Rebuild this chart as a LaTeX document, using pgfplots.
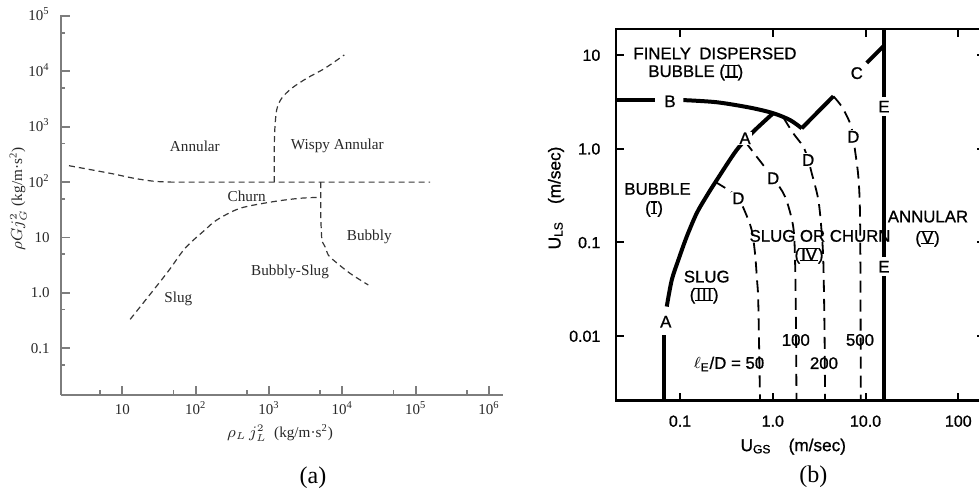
\documentclass[border=0pt]{standalone}
\usepackage{fontspec}
\setmainfont{Liberation Serif}
\newfontfamily\lsans[FakeBold=0.9]{Liberation Sans}
\usepackage{pgfplots}
\pgfplotsset{compat=1.18}

\definecolor{axgray}{RGB}{125,125,125}
\definecolor{txtgray}{RGB}{40,40,40}
\definecolor{dashgray}{RGB}{55,55,55}

% Roman numeral with bars above and below
\newcommand{\rn}[1]{{\setbox0\hbox{#1}\kern0.06em\rlap{\kern-0.06em\rule[-0.05em]{\dimexpr\wd0+0.12em\relax}{0.09em}}\rlap{\kern-0.06em\rule[\dimexpr\ht0-0.04em\relax]{\dimexpr\wd0+0.12em\relax}{0.09em}}\box0\kern0.06em}}

\begin{document}
\begin{tikzpicture}
\useasboundingbox (0,0) rectangle (489.5pt,248pt);

% ---------------- (a) ----------------
\begin{axis}[
  at={(30.5pt,50.65pt)}, anchor=south west,
  scale only axis, width=220.85pt, height=189.85pt,
  xmode=log, ymode=log,
  xmin=1.459, xmax=1.538e6, ymin=0.01452, ymax=1.042e5,
  axis lines*=left,
  axis line style={axgray, line width=1pt},
  tick align=inside,
  major tick length=4.4pt, minor tick length=2.2pt,
  tick style={axgray, line width=0.9pt},
  xtick={10,100,1000,10000,100000,1000000},
  xticklabels={10,10\textsuperscript{2},10\textsuperscript{3},10\textsuperscript{4},10\textsuperscript{5},10\textsuperscript{6}},
  minor xtick={5,50,500,5000,50000,500000},
  ytick={0.1,1,10,100,1000,10000,100000},
  yticklabels={0.1,1.0,10,10\textsuperscript{2},10\textsuperscript{3},10\textsuperscript{4},10\textsuperscript{5}},
  minor ytick={0.05,0.5,5,50,500,5000,50000},
  tick label style={font=\fontsize{7.5}{9}\selectfont, text=txtgray},
  xticklabel style={anchor=base, yshift=-9.8pt},
  yticklabel style={anchor=base east, yshift=-2.5pt, xshift=-2.2pt},
  clip=false,
]
% Annular / Churn boundary
\addplot[dashgray, line width=0.6pt, dash pattern=on 3pt off 2pt, smooth, tension=0.55]
  coordinates {(1.875,198) (6.79,144.5) (14.1,118) (26.5,104) (45,100.3) (80,100) (157000,100)};
% Annular / Wispy annular boundary
\addplot[dashgray, line width=0.6pt, dash pattern=on 3pt off 2pt, smooth, tension=0.5]
  coordinates {(1180,100) (1180,300) (1195,800) (1273,2010) (1490,3270) (2040,4950) (3270,7490) (5810,11400) (10640,19800)};
% Slug / Churn boundary
\addplot[dashgray, line width=0.6pt, dash pattern=on 3pt off 2pt, smooth, tension=0.5]
  coordinates {(12.8,0.333) (40.3,2.26) (71.6,6.38) (134,13.7) (194,20.7) (403,33.7) (1146,44.4) (2650,51.1) (5070,53.2)};
% Bubbly boundary
\addplot[dashgray, line width=0.6pt, dash pattern=on 3pt off 2pt, smooth, tension=0.5]
  coordinates {(5070,100) (5070,30) (5150,15) (5300,8.5) (5810,6.83) (6440,4.83) (7530,3.93) (12700,2.26) (22600,1.39)};

\begin{scope}[every node/.style={font=\fontsize{7.6}{9}\selectfont, text=txtgray}]
\node at (axis cs:97.7,450) {Annular};
\node at (axis cs:8550,450) {Wispy Annular};
\node at (axis cs:497,56.2) {Churn};
\node at (axis cs:23300,10.4) {Bubbly};
\node at (axis cs:1940,2.36) {Bubbly-Slug};
\node at (axis cs:58.1,0.766) {Slug};
\end{scope}
\end{axis}

\node[font=\fontsize{7.6}{9}\selectfont, text=txtgray] at (140pt,31.5pt) {$\rho_L\,j_L^2$\enspace(kg/m·s\textsuperscript{2})};
\node[font=\fontsize{7.6}{9}\selectfont, text=txtgray, rotate=90] at (9pt,148.5pt) {$\rho G j_G^2$\ (kg/m·s\textsuperscript{2})};
\node[font=\fontsize{12}{14}\selectfont] at (156.5pt,9pt) {(a)};

% ---------------- (b) ----------------
\begin{axis}[
  at={(308pt,47.65pt)}, anchor=south west,
  scale only axis, width=184.5pt, height=185.85pt,
  xmode=log, ymode=log,
  xmin=0.0204, xmax=194, ymin=0.002037, ymax=18.95,
  axis line style={black, line width=1.3pt},
  tick align=inside,
  major tick length=4pt,
  tick style={black, line width=1pt},
  xminorticks=false, yminorticks=false,
  xtick={0.1,1,10,100}, xticklabels={0.1,1.0,10.0,100},
  ytick={0.01,0.1,1,10}, yticklabels={0.01,0.1,1.0,10},
  tick label style={font=\lsans\fontsize{8}{9}\selectfont},
  xticklabel style={anchor=base, yshift=-13pt},
  yticklabel style={anchor=base east, yshift=-2.9pt, xshift=-4.3pt},
  clip=false,
  thk/.style={black, line width=2pt},
  dsh/.style={black, line width=0.9pt, dash pattern=on 6pt off 3.5pt, smooth, tension=0.5},
]
% B: bubble / dispersed bubble boundary
\addplot[thk] coordinates {(0.0204,3.28) (0.0538,3.28)};
\addplot[thk, smooth, tension=0.5] coordinates {(0.1086,3.30) (0.249,3.13) (0.569,2.74) (1.01,2.39) (1.535,2.02) (2.05,1.65)};
% C: dispersed bubble boundary at high gas rate
\addplot[thk] coordinates {(2.05,1.65) (4.5,3.63)};
\addplot[thk] coordinates {(10.3,8.24) (15.8,12.6)};
% E: annular transition
\addplot[thk] coordinates {(15.8,0.002037) (15.8,18.95)};
% A: bubble / slug boundary
\addplot[thk] coordinates {(0.0664,0.002037) (0.0664,0.0103)};
\addplot[thk, smooth, tension=0.5] coordinates {(0.0719,0.0206) (0.0814,0.0396) (0.0959,0.0648) (0.118,0.1148) (0.151,0.204) (0.194,0.313) (0.249,0.463) (0.408,0.968) (0.617,1.52) (1.01,2.39)};
% D: slug / churn boundaries for several entry lengths
\addplot[dsh] coordinates {(0.238,0.443) (0.332,0.362) (0.425,0.295) (0.502,0.212) (0.592,0.1355) (0.643,0.0764) (0.676,0.0396) (0.698,0.0223) (0.728,0.002037)};
\addplot[dsh] coordinates {(0.50,1.2) (0.671,0.820) (1.01,0.483) (1.356,0.307) (1.66,0.147) (1.74,0.0597) (1.78,0.0116) (1.80,0.002037)};
\addplot[dsh] coordinates {(1.30,2.15) (1.66,1.46) (2.13,1.05) (2.41,0.757) (2.63,0.546) (3.10,0.283) (3.37,0.125) (3.51,0.0597) (3.61,0.0116) (3.66,0.002037)};
\addplot[dsh] coordinates {(4.5,3.63) (5.54,2.81) (6.81,1.87) (7.38,1.34) (7.69,0.969) (8.36,0.503) (8.71,0.204) (8.83,0.0242) (8.87,0.002037)};

\begin{scope}[every node/.style={font=\lsans\fontsize{8.4}{9.5}\selectfont, inner sep=0.5pt}]
\node[fill=white, inner sep=1.5pt] at (axis cs:0.078,3.2) {B};
\node[fill=white, inner sep=1.5pt] at (axis cs:8.04,6.4) {C};
\node[fill=white, inner ysep=2pt] at (axis cs:15.8,2.81) {E};
\node[fill=white, inner ysep=2pt] at (axis cs:15.8,0.0549) {E};
\node[fill=white] at (axis cs:0.502,1.29) {A};
\node[fill=white, inner ysep=2pt] at (axis cs:0.0702,0.0142) {A};
\node[fill=white] at (axis cs:0.425,0.295) {D};
\node[fill=white] at (axis cs:1.01,0.483) {D};
\node[fill=white] at (axis cs:2.41,0.757) {D};
\node[fill=white] at (axis cs:7.38,1.34) {D};
\node at (axis cs:0.238,10.4) {FINELY\enspace DISPERSED};
\node at (axis cs:0.148,6.50) {BUBBLE (\rn{I\kern0.08em I})};
\node at (axis cs:0.0572,0.371) {BUBBLE};
\node at (axis cs:0.0525,0.227) {(\rn{I})};
\node at (axis cs:0.194,0.0430) {SLUG};
\node at (axis cs:0.182,0.0269) {(\rn{I\kern0.05em I\kern0.05em I})};
\node at (axis cs:3.23,0.117) {SLUG OR CHURN};
\node at (axis cs:2.46,0.0718) {(\rn{IV})};
\node at (axis cs:47.1,0.188) {ANNULAR};
\node at (axis cs:46.6,0.109) {(\rn{V})};
\node at (axis cs:0.337,0.00502) {$\ell$\textsubscript{E}/D = 50};
\node at (axis cs:1.77,0.00906) {100};
\node at (axis cs:3.56,0.00512) {200};
\node at (axis cs:8.71,0.00906) {500};
\end{scope}
\end{axis}

\node[font=\lsans\fontsize{8.6}{10}\selectfont] at (396.65pt,24.65pt) {U\textsubscript{GS}\quad(m/sec)};
\node[font=\lsans\fontsize{8.6}{10}\selectfont, rotate=90] at (278pt,149pt) {U\textsubscript{LS}\quad(m/sec)};
\node[font=\fontsize{12}{14}\selectfont] at (406.65pt,9.65pt) {(b)};
\end{tikzpicture}
\end{document}
